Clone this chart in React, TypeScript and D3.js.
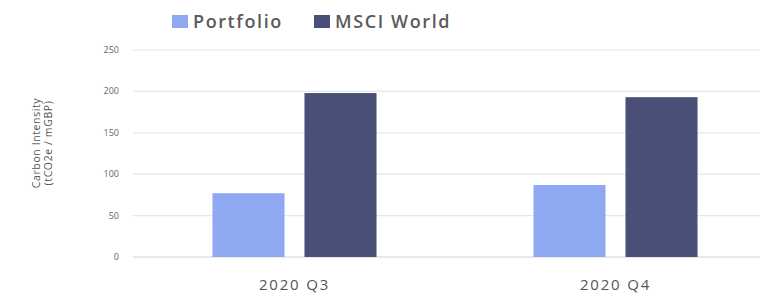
import React, { useEffect, useRef } from "react";
import * as d3 from "d3";

const categories = ["2020 Q3", "2020 Q4"];
const seriesNames = ["Portfolio", "MSCI World"];
const portfolio = [77, 87];
const msciWorld = [198, 193];
const yTicks = [0, 50, 100, 150, 200, 250];
const colors = ["#8ea9f2", "#4a4f77"];

export default function App() {
  const ref = useRef<SVGSVGElement>(null);

  useEffect(() => {
    const svg = d3.select(ref.current);
    svg.selectAll("*").remove();

    const width = 760;
    const left = 133, top = 50, bottom = 257;

    const y = d3.scaleLinear().domain([0, 250]).range([bottom, top]);
    const x0 = d3.scaleBand().domain(categories).range([134, 776]).paddingInner(0).paddingOuter(0);
    const x1 = d3.scaleBand().domain(seriesNames).range([0, x0.bandwidth()]).paddingInner(0.217).paddingOuter(0.853);

    // grid
    svg.append("g")
      .selectAll("line")
      .data(yTicks)
      .join("line")
      .attr("x1", left)
      .attr("x2", width)
      .attr("y1", (d) => y(d))
      .attr("y2", (d) => y(d))
      .attr("stroke", (d) => (d === 0 ? "#d4d4d4" : "#e6e6e6"))
      .attr("stroke-width", 1.2);

    // y tick labels
    svg.append("g")
      .selectAll("text")
      .data(yTicks)
      .join("text")
      .attr("x", 119)
      .attr("y", (d) => y(d) + 3)
      .attr("text-anchor", "end")
      .attr("font-family", "Open Sans")
      .attr("font-size", 9)
      .attr("fill", "#666")
      .text((d) => d);

    // bars
    const rows = categories.map((c, i) => ({ cat: c, vals: [portfolio[i], msciWorld[i]] }));
    const g = svg.append("g");
    rows.forEach((r) => {
      r.vals.forEach((v, j) => {
        g.append("rect")
          .attr("x", (x0(r.cat) as number) + (x1(seriesNames[j]) as number))
          .attr("y", y(v))
          .attr("width", x1.bandwidth())
          .attr("height", bottom - y(v))
          .attr("fill", colors[j]);
      });
    });

    // x labels
    svg.append("g")
      .selectAll("text")
      .data(categories)
      .join("text")
      .attr("x", (d) => (x0(d) as number) + x0.bandwidth() / 2)
      .attr("y", 290)
      .attr("text-anchor", "middle")
      .attr("font-family", "Open Sans")
      .attr("font-size", 15)
      .attr("letter-spacing", 1.8)
      .attr("fill", "#555")
      .text((d) => d);

    // y axis title
    const t = svg.append("text")
      .attr("transform", "translate(40,143) rotate(-90)")
      .attr("text-anchor", "middle")
      .attr("font-family", "Open Sans")
      .attr("font-size", 10.5)
      .attr("letter-spacing", 0.6)
      .attr("fill", "#555");
    t.append("tspan").attr("x", 0).attr("dy", 0).text("Carbon Intensity");
    t.append("tspan").attr("x", 0).attr("dy", 12).text("(tCO2e / mGBP)");

    // legend
    const legendX = [172, 314];
    seriesNames.forEach((s, i) => {
      svg.append("rect")
        .attr("x", legendX[i])
        .attr("y", 15)
        .attr("width", 16)
        .attr("height", 13)
        .attr("fill", colors[i]);
      svg.append("text")
        .attr("x", legendX[i] + 21)
        .attr("y", 28)
        .attr("font-family", "Open Sans")
        .attr("font-weight", 600)
        .attr("font-size", 18)
        .attr("letter-spacing", 1.6)
        .attr("fill", "#5a5a5a")
        .text(s);
    });
  }, []);

  return (
    <svg
      ref={ref}
      width={760}
      height={293}
      style={{ position: "absolute", left: 0, top: 0, background: "#fff" }}
    />
  );
}
